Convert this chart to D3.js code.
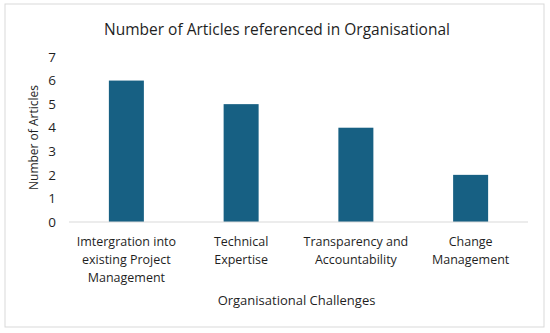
<!DOCTYPE html>
<html>
<head>
<meta charset="utf-8">
<script src="https://cdn.jsdelivr.net/npm/d3@7"></script>
<style>
  body { margin: 0; background: #fff; }
  svg { display: block; }
  text { font-family: "Open Sans", "Noto Sans", sans-serif; fill: #1f1f1f; }
</style>
</head>
<body>
<svg width="550" height="333"></svg>
<script>
// chart data
var categories = [
  ["Imtergration into", "existing Project", "Management"],
  ["Technical", "Expertise"],
  ["Transparency and", "Accountability"],
  ["Change", "Management"]
];
var articles = [6, 5, 4, 2];
var yTicks = [0, 1, 2, 3, 4, 5, 6, 7];

var svg = d3.select("svg");
var margin = {top: 57, right: 22, bottom: 111, left: 69};
var width = 550 - margin.left - margin.right;
var height = 333 - margin.top - margin.bottom;

// outer frame
svg.append("rect")
    .attr("x", 5).attr("y", 4)
    .attr("width", 539).attr("height", 323)
    .style("fill", "#fff")
    .style("stroke", "#d9d9d9")
    .style("stroke-width", 1);

svg.append("text")
    .attr("x", 277).attr("y", 35)
    .attr("text-anchor", "middle")
    .style("font-size", "15.5px")
    .text("Number of Articles referenced in Organisational");

var g = svg.append("g")
    .attr("transform", "translate(" + margin.left + "," + margin.top + ")");

var x = d3.scaleBand()
    .domain(d3.range(categories.length))
    .range([0, width])
    .padding(0);

var y = d3.scaleLinear()
    .domain([0, 7])
    .range([height, 0]);

var barW = x.bandwidth() * 0.305;

g.selectAll("rect.bar")
    .data(articles)
    .enter()
    .append("rect")
    .attr("class", "bar")
    .attr("x", function(d, i) { return x(i) + (x.bandwidth() - barW) / 2; })
    .attr("y", function(d) { return y(d); })
    .attr("width", barW)
    .attr("height", function(d) { return height - y(d); })
    .style("fill", "#176083");

// baseline
g.append("line")
    .attr("x1", 0).attr("x2", width)
    .attr("y1", height).attr("y2", height)
    .style("stroke", "#d9d9d9");

// y tick labels
g.selectAll("text.ytick")
    .data(yTicks)
    .enter()
    .append("text")
    .attr("class", "ytick")
    .attr("x", -17)
    .attr("y", function(d) { return y(d); })
    .attr("dy", "0.35em")
    .attr("text-anchor", "middle")
    .style("font-size", "13.5px")
    .text(function(d) { return d; });

// category labels
var cat = g.selectAll("text.cat")
    .data(categories)
    .enter()
    .append("text")
    .attr("class", "cat")
    .attr("text-anchor", "middle")
    .style("font-size", "12.5px");

cat.selectAll("tspan")
    .data(function(d, i) { return d.map(function(s) { return {s: s, i: i}; }); })
    .enter()
    .append("tspan")
    .attr("x", function(d) { return x(d.i) + x.bandwidth() / 2; })
    .attr("y", function(d, j) { return height + 24 + j * 18; })
    .text(function(d) { return d.s; });

// axis titles
g.append("text")
    .attr("x", width / 2 - 2)
    .attr("y", height + 83)
    .attr("text-anchor", "middle")
    .style("font-size", "13px")
    .text("Organisational Challenges");

g.append("text")
    .attr("transform", "translate(" + (-31) + "," + (height / 2 - 2) + ") rotate(-90)")
    .attr("text-anchor", "middle")
    .style("font-size", "12px")
    .text("Number of Articles");
</script>
</body>
</html>
